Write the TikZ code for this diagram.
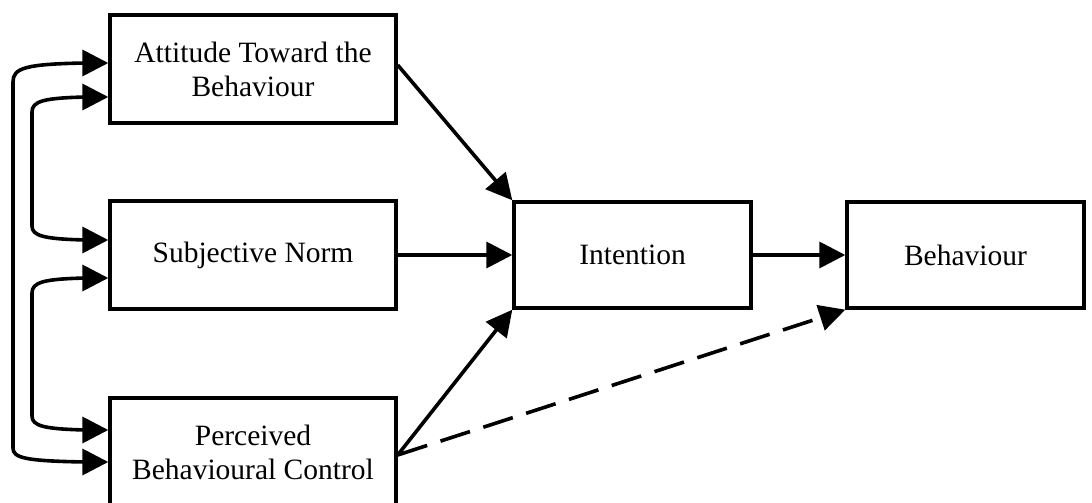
\documentclass[tikz,border=0pt]{standalone}
\usepackage{fontspec}
\setmainfont{Liberation Serif}
\usetikzlibrary{arrows.meta}
\tikzset{
  box/.style={draw,line width=3.4pt,minimum width=286pt,minimum height=108pt,align=center,font=\fontsize{29.5}{34}\selectfont},
  smallbox/.style={box,minimum width=237pt,minimum height=106pt},
  arr/.style={-{Triangle[length=26pt,width=26pt]},line width=3.6pt},
  pairarr/.style={{Triangle[length=26pt,width=26pt]}-{Triangle[length=26pt,width=26pt]},line width=3.6pt}
}
\begin{document}
\begin{tikzpicture}[x=1pt,y=-1pt]
\useasboundingbox (0,0) rectangle (1092,503);
\node[box] at (253,69) (attitude) {Attitude Toward the\\Behaviour};
\node[box] at (253,255) (subjective) {Subjective Norm};
\node[box] at (253,452) (perceived) {Perceived\\Behavioural Control};
\node[smallbox] at (632.5,255) (intention) {Intention};
\node[smallbox] at (965.5,255) (behaviour) {Behaviour};
\draw[arr] ([yshift=4pt]attitude.east) -- (intention.north west);
\draw[arr] (subjective.east) -- (intention.west);
\draw[arr] ([yshift=-3pt]perceived.east) -- (intention.south west);
\draw[arr] (intention.east) -- (behaviour.west);
\draw[arr,dash pattern=on 31pt off 14pt] ([yshift=-3pt]perceived.east) -- (behaviour.south west);
% correlations on the left
\draw[pairarr] ([yshift=6pt]attitude.west) -- (86,63) .. controls (25,64) and (13,68) .. (13,82) -- (13,448) .. controls (13,458) and (25,461) .. (86,462) -- ([yshift=-10pt]perceived.west);
\draw[pairarr] ([yshift=-28pt]attitude.west) -- (86,97) .. controls (44,98) and (32,101) .. (32,112) -- (32,226) .. controls (32,236) and (44,239) .. (86,240) -- ([yshift=15pt]subjective.west);
\draw[pairarr] ([yshift=-23pt]subjective.west) -- (86,278) .. controls (44,279) and (32,282) .. (32,293) -- (32,416) .. controls (32,426) and (44,429) .. (86,430) -- ([yshift=22pt]perceived.west);
\end{tikzpicture}
\end{document}
